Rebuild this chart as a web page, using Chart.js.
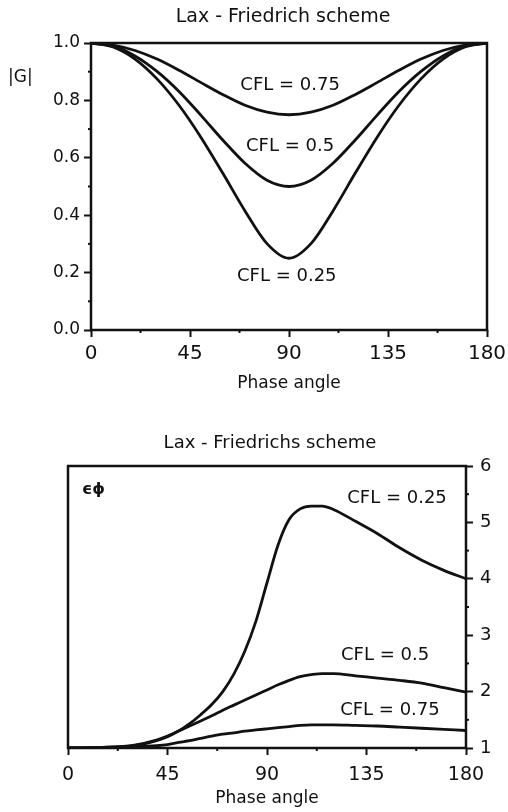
<!DOCTYPE html>
<html><head><meta charset="utf-8">
<script src="https://cdn.jsdelivr.net/npm/chart.js@4.4.1/dist/chart.umd.min.js"></script>
<style>
html,body{margin:0;padding:0;background:#fff;width:508px;height:812px;overflow:hidden}
.box{position:absolute;left:0;width:508px}
</style></head><body>
<div class="box" style="top:0;height:400px"><canvas id="c1"></canvas></div>
<div class="box" style="top:400px;height:412px"><canvas id="c2"></canvas></div>
<script>
// ---------- data ----------
const ampAngles = [0,10,20,30,40,50,60,70,80,90,100,110,120,130,140,150,160,170,180];
const ampCFL025 = [1.0,0.986,0.944,0.875,0.783,0.671,0.545,0.415,0.301,0.25,0.301,0.415,0.545,0.671,0.783,0.875,0.944,0.986,1.0];
const ampCFL050 = [1.0,0.989,0.955,0.901,0.831,0.748,0.661,0.581,0.522,0.5,0.522,0.581,0.661,0.748,0.831,0.901,0.955,0.989,1.0];
const ampCFL075 = [1.0,0.993,0.974,0.944,0.905,0.862,0.820,0.783,0.759,0.75,0.759,0.783,0.820,0.862,0.905,0.944,0.974,0.993,1.0];

const phaseAngles = [0,15,30,40,45,50,55,60,65,70,75,80,85,90,95,100,105,110,115,120,130,140,150,160,170,180];
const phaseCFL025 = [1.0,1.01,1.05,1.14,1.21,1.30,1.43,1.59,1.77,2.00,2.31,2.72,3.25,3.93,4.60,5.05,5.24,5.29,5.29,5.23,5.02,4.80,4.55,4.33,4.15,4.0];
const phaseCFL050 = [1.0,1.01,1.04,1.13,1.20,1.30,1.39,1.48,1.57,1.67,1.76,1.85,1.94,2.03,2.12,2.20,2.265,2.30,2.32,2.32,2.28,2.24,2.20,2.15,2.07,1.99];
const phaseCFL075 = [1.0,1.005,1.02,1.04,1.06,1.10,1.13,1.17,1.21,1.245,1.27,1.30,1.32,1.34,1.36,1.38,1.40,1.41,1.41,1.41,1.40,1.39,1.37,1.35,1.33,1.31];

const xTickLabels = ['0','45','90','135','180'];
const ampTickLabels = ['0.0','0.2','0.4','0.6','0.8','1.0'];
const phaseTickLabels = ['1','2','3','4','5','6'];

const ampNoteText = ['CFL = 0.75','CFL = 0.5','CFL = 0.25'];
const phaseNoteText = ['CFL = 0.25','CFL = 0.5','CFL = 0.75'];

// ---------- helpers ----------
const FONT = '"DejaVu Sans", sans-serif';
const INK = '#111';
const isMaj = (v, step) => Math.abs(v/step - Math.round(v/step)) < 1e-6;
const pts = (xs, ys) => xs.map((x,i)=>({x, y: ys[i]}));
const line = (data) => ({data, borderColor: INK, borderWidth: 2.8, pointRadius: 0, fill: false,
  cubicInterpolationMode: 'monotone', tension: 0.4});

const deco = {
  id: 'deco',
  afterDraw(chart, args, o) {
    const ctx = chart.ctx, a = chart.chartArea;
    ctx.save();
    ctx.strokeStyle = INK; ctx.lineWidth = 2.5;
    ctx.strokeRect(a.left, a.top, a.right - a.left, a.bottom - a.top);
    // minor ticks from the scales' own ticks
    ctx.lineWidth = 2;
    Object.values(chart.scales).forEach(s => {
      const step = s.axis === 'x' ? o.xMajor : o.yMajor;
      s.ticks.forEach(t => {
        if (isMaj(t.value, step)) return;
        const p = s.getPixelForValue(t.value);
        ctx.beginPath();
        if (s.axis === 'x') { ctx.moveTo(p, a.bottom); ctx.lineTo(p, a.bottom + o.minorLen); }
        else if (s.position === 'left') { ctx.moveTo(a.left, p); ctx.lineTo(a.left - o.minorLen, p); }
        else { ctx.moveTo(a.right, p); ctx.lineTo(a.right + o.minorLen, p); }
        ctx.stroke();
      });
    });
    ctx.fillStyle = INK;
    ctx.textBaseline = 'middle';
    (o.texts || []).forEach(t => {
      ctx.font = (t.weight || 'normal') + ' ' + t.size + 'px ' + FONT;
      ctx.textAlign = t.align || 'center';
      const x = t.px !== undefined ? t.px : chart.scales.x.getPixelForValue(t.x);
      const y = t.py !== undefined ? t.py : chart.scales.y.getPixelForValue(t.y);
      ctx.fillText(t.text, x, y);
    });
    ctx.restore();
  }
};

const xScale = (labelSize, pad, height, titlePad) => ({
  type: 'linear', min: 0, max: 180,
  ticks: { stepSize: 22.5, autoSkip: false, maxRotation: 0, padding: pad, color: INK,
    font: { family: FONT, size: labelSize },
    callback: v => isMaj(v, 45) ? xTickLabels[Math.round(v/45)] : '' },
  grid: { drawOnChartArea: false, tickLength: 7, tickWidth: 2,
    tickColor: c => (c.tick && isMaj(c.tick.value, 45)) ? INK : 'rgba(0,0,0,0)' },
  border: { display: false },
  title: { display: true, text: 'Phase angle', color: INK, font: { family: FONT, size: 17 },
    padding: { top: 0, bottom: titlePad } },
  afterFit: s => { s.height = height; s.paddingLeft = 0; s.paddingRight = 0; }
});

// ---------- top chart ----------
new Chart(document.getElementById('c1'), {
  type: 'line',
  data: { datasets: [line(pts(ampAngles, ampCFL025)), line(pts(ampAngles, ampCFL050)), line(pts(ampAngles, ampCFL075))] },
  options: {
    responsive: true, maintainAspectRatio: false, animation: false,
    layout: { padding: { left: 0, right: 21, top: 43, bottom: 0 } },
    plugins: { legend: { display: false }, tooltip: { enabled: false },
      deco: { xMajor: 45, yMajor: 0.2, minorLen: 3, texts: [
        { text: 'Lax - Friedrich scheme', px: 283, py: 17, size: 19 },
        { text: '|G|', px: 8, py: 78, size: 17, align: 'left' },
        { text: ampNoteText[0], x: 90.5, y: 0.854, size: 18 },
        { text: ampNoteText[1], x: 90.5, y: 0.641, size: 18 },
        { text: ampNoteText[2], x: 89, y: 0.188, size: 18 }
      ] } },
    scales: {
      x: xScale(20, 5, 70, 6),
      y: { type: 'linear', position: 'left', min: 0, max: 1,
        ticks: { stepSize: 0.1, autoSkip: false, padding: 4, color: INK, font: { family: FONT, size: 17 },
          callback: v => isMaj(v, 0.2) ? ampTickLabels[Math.round(v/0.2)] : '' },
        grid: { drawOnChartArea: false, tickLength: 7, tickWidth: 2,
          tickColor: c => (c.tick && isMaj(c.tick.value, 0.2)) ? INK : 'rgba(0,0,0,0)' },
        border: { display: false },
        afterFit: s => { s.width = 91; s.paddingTop = 0; s.paddingBottom = 0; } }
    }
  },
  plugins: [deco]
});

// ---------- bottom chart ----------
new Chart(document.getElementById('c2'), {
  type: 'line',
  data: { datasets: [line(pts(phaseAngles, phaseCFL025)), line(pts(phaseAngles, phaseCFL050)), line(pts(phaseAngles, phaseCFL075))] },
  options: {
    responsive: true, maintainAspectRatio: false, animation: false,
    layout: { padding: { left: 68, right: 0, top: 66, bottom: 0 } },
    plugins: { legend: { display: false }, tooltip: { enabled: false },
      deco: { xMajor: 45, yMajor: 1, minorLen: 3, texts: [
        { text: 'Lax - Friedrichs scheme', px: 270, py: 43, size: 18 },
        { text: 'ϵϕ', px: 82, py: 90, size: 16, align: 'left', weight: 'bold' },
        { text: phaseNoteText[0], x: 148.8, y: 5.42, size: 18 },
        { text: phaseNoteText[1], x: 143.4, y: 2.65, size: 18 },
        { text: phaseNoteText[2], x: 145.6, y: 1.67, size: 18 }
      ] } },
    scales: {
      x: xScale(19, 9, 64, 3),
      y: { type: 'linear', position: 'right', min: 1, max: 6,
        ticks: { stepSize: 0.5, autoSkip: false, padding: 7, color: INK, font: { family: FONT, size: 18 },
          callback: v => isMaj(v, 1) ? phaseTickLabels[Math.round(v) - 1] : '' },
        grid: { drawOnChartArea: false, tickLength: 7, tickWidth: 2,
          tickColor: c => (c.tick && isMaj(c.tick.value, 1)) ? INK : 'rgba(0,0,0,0)' },
        border: { display: false },
        afterFit: s => { s.width = 42; s.paddingTop = 0; s.paddingBottom = 0; } }
    }
  },
  plugins: [deco]
});
</script>
</body></html>
